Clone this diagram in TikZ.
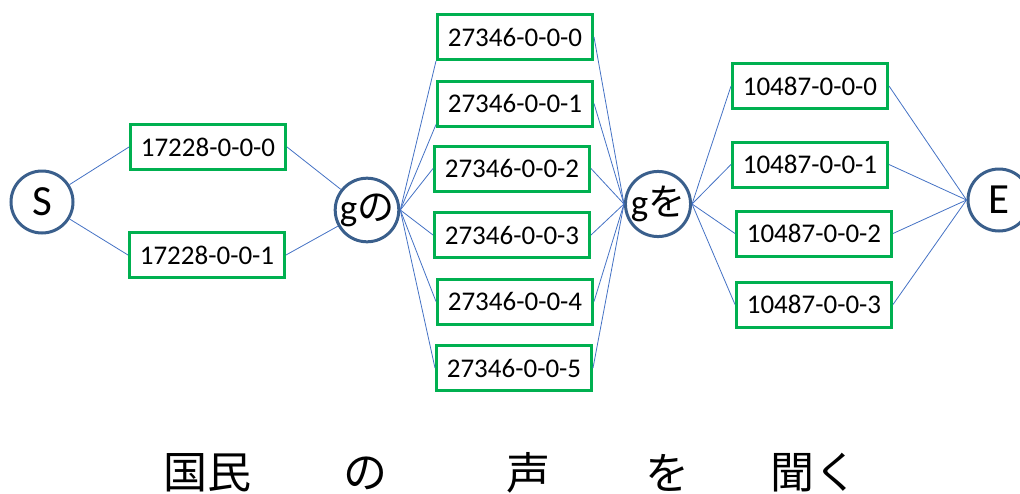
\documentclass[tikz,border=0pt]{standalone}
\usepackage{fontspec}
\setmainfont{Carlito}
\newfontfamily\jp{Noto Sans CJK JP}
\usetikzlibrary{shapes.geometric,arrows}
\definecolor{boxgreen}{HTML}{00B050}
\definecolor{ringblue}{HTML}{3A5F8C}
\definecolor{lineblue}{HTML}{4472C4}
\tikzstyle{state} = [circle, minimum size = 62pt, inner sep = 0pt, draw = ringblue, line width = 3pt, font = \fontsize{43}{45}\selectfont]
\tikzstyle{gstate} = [state, font = \fontsize{37}{39}\selectfont]
\tikzstyle{word} = [rectangle, minimum width = 155pt, minimum height = 45pt, inner sep = 0pt, draw = boxgreen, line width = 3pt, font = \fontsize{27}{29}\selectfont]
\tikzstyle{link} = [draw = lineblue, line width = 0.8pt]
\tikzstyle{kanji} = [inner sep = 0pt, font = \jp\fontsize{44}{46}\selectfont]

\begin{document}
\begin{tikzpicture}[x = 1pt, y = -1pt, node distance = 66.5pt]
\useasboundingbox (0,0) rectangle (1020,493);

\node(S) [state] at (42,202) {S};
\node(l0) [word] at (208,147) {17228-0-0-0};
\node(l1) [word] at (207,255) {17228-0-0-1};
\node(gno) [gstate] at (367,210) {g{\jp の}};
\node(m0) [word] at (515,37) {27346-0-0-0};
\node(m1) [word, below of = m0] {27346-0-0-1};
\node(m2) [word, below of = m1, xshift = -3pt, yshift = 1.5pt] {27346-0-0-2};
\node(m3) [word, below of = m2] {27346-0-0-3};
\node(m4) [word, below of = m3, xshift = 3pt] {27346-0-0-4};
\node(m5) [word, below of = m4, xshift = -1pt] {27346-0-0-5};
\node(gwo) [gstate] at (658,204) {g{\jp を}};
\node(r0) [word] at (810,86) {10487-0-0-0};
\node(r1) [word, below of = r0, yshift = -12pt] {10487-0-0-1};
\node(r2) [word, below of = r1, xshift = 4pt, yshift = -2.5pt] {10487-0-0-2};
\node(r3) [word, below of = r2, yshift = -4.5pt] {10487-0-0-3};
\node(E) [state] at (999,200) {E};

\node(kokumin) [kanji] at (207,473) {国民};
\node(no) [kanji] at (365,473) {の};
\node(koe) [kanji] at (528,473) {声};
\node(wo) [kanji] at (667,473) {を};
\node(kiku) [kanji] at (814,473) {聞く};

\draw [link] (S) -- (l0.west);
\draw [link] (S) -- (l1.west);
\draw [link] (l0.east) -- (gno);
\draw [link] (l1.east) -- (gno);
\draw [link] (gno.east) -- (m0.south west);
\draw [link] (gno.east) -- ([yshift=3pt]m1.south west);
\foreach \i in {2,...,5}
  \draw [link] (gno.east) -- (m\i.west);
\foreach \i in {0,...,5}
  \draw [link] (m\i.east) -- (gwo.west);
\foreach \i in {0,...,3} {
  \draw [link] (gwo.east) -- (r\i.west);
  \draw [link] (r\i.east) -- (E.west);
}

\end{tikzpicture}
\end{document}
